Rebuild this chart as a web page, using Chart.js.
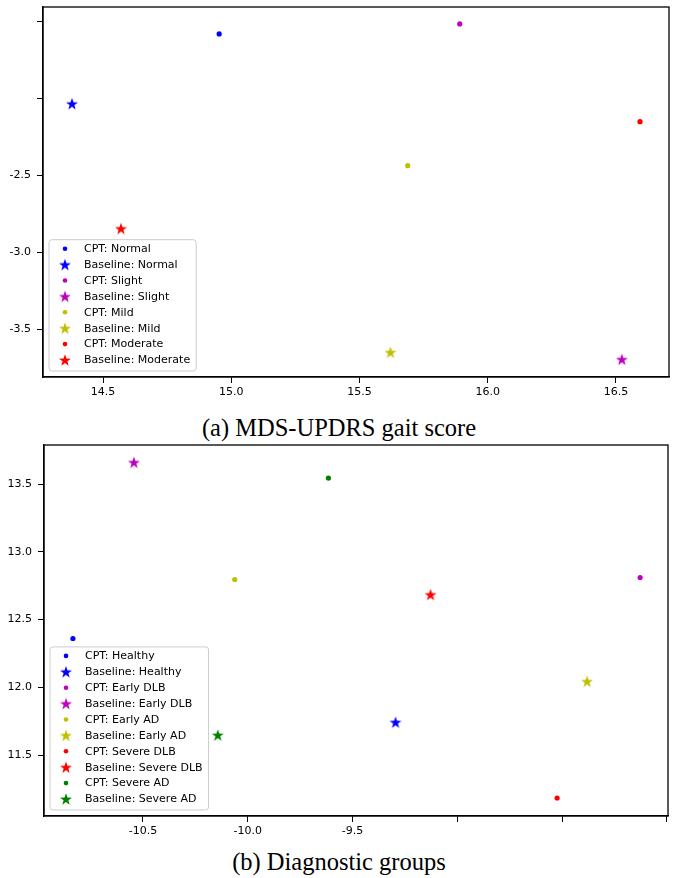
<!DOCTYPE html>
<html>
<head>
<meta charset="utf-8">
<script src="https://cdn.jsdelivr.net/npm/chart.js@4.4.0/dist/chart.umd.min.js"></script>
<style>
  body { margin: 0; background: #fff; width: 678px; height: 878px; position: relative; overflow: hidden; }
  canvas { position: absolute; left: 0; }
  #gaitChart { top: 0; }
  #groupChart { top: 438px; }
  .caption { position: absolute; left: 0; width: 678px; text-align: center; font-family: "Liberation Serif", "DejaVu Serif", serif; font-size: 24.5px; line-height: 28px; color: #000; }
</style>
</head>
<body>
<canvas id="gaitChart" width="678" height="400"></canvas>
<div class="caption" style="top:414px">(a) MDS-UPDRS gait score</div>
<canvas id="groupChart" width="678" height="400"></canvas>
<div class="caption" style="top:848px">(b) Diagnostic groups</div>
<script>
// (a) MDS-UPDRS gait score
const gaitGroups = ['Normal', 'Slight', 'Mild', 'Moderate'];
const gaitColors = ['#0000ff', '#bf00bf', '#bfbf00', '#ff0000'];
const gaitCptX = [14.953, 15.891, 15.688, 16.594];
const gaitCptY = [-1.578, -1.513, -2.435, -2.149];
const gaitBaseX = [14.379, 16.523, 15.621, 14.570];
const gaitBaseY = [-2.032, -3.695, -3.649, -2.844];
const gaitXTicks = [14.5, 15.0, 15.5, 16.0, 16.5];
const gaitXLabels = ['14.5', '15.0', '15.5', '16.0', '16.5'];
const gaitYTicks = [-1.5, -2.0, -2.5, -3.0, -3.5];
const gaitYLabels = ['', '', '-2.5', '-3.0', '-3.5'];

// (b) Diagnostic groups
const diagGroups = ['Healthy', 'Early DLB', 'Early AD', 'Severe DLB', 'Severe AD'];
const diagColors = ['#0000ff', '#bf00bf', '#bfbf00', '#ff0000', '#008000'];
const diagCptX = [-10.834, -8.128, -10.062, -8.524, -9.615];
const diagCptY = [12.36, 12.81, 12.795, 11.183, 13.544];
const diagBaseX = [-9.295, -10.543, -8.381, -9.128, -10.143];
const diagBaseY = [11.742, 13.66, 12.044, 12.684, 11.647];
const diagXTicks = [-10.5, -10.0, -9.5, -9.0, -8.5, -8.0];
const diagXLabels = ['-10.5', '-10.0', '-9.5', '', '', ''];
const diagYTicks = [11.5, 12.0, 12.5, 13.0, 13.5];
const diagYLabels = ['11.5', '12.0', '12.5', '13.0', '13.5'];

const tickFont = { family: 'DejaVu Sans', size: 11 };

// filled 5 point star, like matplotlib's '*' marker
function starImage(color) {
  const c = document.createElement('canvas');
  c.width = 14; c.height = 14;
  const g = c.getContext('2d');
  g.beginPath();
  for (let i = 0; i < 10; i++) {
    const r = i % 2 === 0 ? 6.3 : 2.5;
    const a = -Math.PI / 2 + i * Math.PI / 5;
    const px = 7 + r * Math.cos(a), py = 7.6 + r * Math.sin(a);
    if (i === 0) g.moveTo(px, py); else g.lineTo(px, py);
  }
  g.closePath();
  g.fillStyle = color;
  g.fill();
  return c;
}

function buildDatasets(groups, colors, cx, cy, bx, by) {
  const sets = [];
  groups.forEach((name, i) => {
    sets.push({
      label: 'CPT: ' + name,
      data: [{ x: cx[i], y: cy[i] }],
      backgroundColor: colors[i],
      borderWidth: 0,
      pointStyle: 'circle',
      pointRadius: 2.6
    });
    sets.push({
      label: 'Baseline: ' + name,
      data: [{ x: bx[i], y: by[i] }],
      backgroundColor: colors[i],
      borderWidth: 0,
      pointStyle: starImage(colors[i]),
      pointRadius: 7
    });
  });
  return sets;
}

function axisOptions(ticks, labels, min, max, size, isX) {
  return {
    type: 'linear',
    min: min,
    max: max,
    afterBuildTicks: s => { s.ticks = ticks.map(v => ({ value: v })); },
    afterFit: s => {
      if (isX) s.height = size; else s.width = size;
      s.paddingTop = 0; s.paddingBottom = 0; s.paddingLeft = 0; s.paddingRight = 0;
    },
    ticks: {
      callback: (v, i) => labels[i],
      color: '#000',
      font: tickFont,
      padding: isX ? 3 : 6,
      maxRotation: 0,
      autoSkip: false
    },
    grid: { display: true, drawOnChartArea: false, drawTicks: true, tickLength: 6, color: '#000', lineWidth: 1 },
    border: { display: true, color: '#000', width: 1.3 }
  };
}

// axes frame + matplotlib style legend in the lower left corner
const framePlugin = {
  id: 'frameLegend',
  afterDraw(chart) {
    const ctx = chart.ctx;
    const a = chart.chartArea;
    ctx.save();
    ctx.strokeStyle = '#000';
    ctx.lineWidth = 1.3;
    ctx.strokeRect(a.left, a.top, a.right - a.left, a.bottom - a.top);

    const sets = chart.data.datasets;
    const rowH = 15.9;
    ctx.font = '11px "DejaVu Sans"';
    let maxW = 0;
    sets.forEach(d => { maxW = Math.max(maxW, ctx.measureText(d.label).width); });
    const boxW = 35 + maxW + 6;
    const boxH = 9 + (sets.length - 1) * rowH + 11;
    const x0 = a.left + 6;
    const y0 = a.bottom - 6 - boxH;
    ctx.beginPath();
    ctx.roundRect(x0, y0, boxW, boxH, 3);
    ctx.fillStyle = 'rgba(255,255,255,0.8)';
    ctx.fill();
    ctx.strokeStyle = '#cccccc';
    ctx.lineWidth = 1;
    ctx.stroke();

    ctx.textBaseline = 'middle';
    ctx.textAlign = 'left';
    sets.forEach((d, i) => {
      const cy = y0 + 9 + i * rowH;
      const mx = x0 + 16;
      if (d.pointStyle instanceof HTMLCanvasElement) {
        ctx.drawImage(d.pointStyle, mx - 7, cy - 7);
      } else {
        ctx.beginPath();
        ctx.arc(mx, cy, 2.3, 0, Math.PI * 2);
        ctx.fillStyle = d.backgroundColor;
        ctx.fill();
      }
      ctx.fillStyle = '#000';
      ctx.fillText(d.label, x0 + 35, cy + 0.5);
    });
    ctx.restore();
  }
};

function makeChart(id, datasets, xAxis, yAxis, padding) {
  return new Chart(document.getElementById(id), {
    type: 'scatter',
    data: { datasets: datasets },
    options: {
      responsive: false,
      devicePixelRatio: 1,
      animation: false,
      events: [],
      layout: { padding: padding },
      plugins: { legend: { display: false }, tooltip: { enabled: false } },
      scales: { x: xAxis, y: yAxis }
    },
    plugins: [framePlugin]
  });
}

const gaitChart = makeChart('gaitChart',
  buildDatasets(gaitGroups, gaitColors, gaitCptX, gaitCptY, gaitBaseX, gaitBaseY),
  axisOptions(gaitXTicks, gaitXLabels, 14.266, 16.707, 23, true),
  axisOptions(gaitYTicks, gaitYLabels, -3.81, -1.403, 43, false),
  { top: 6, right: 9, left: 0, bottom: 0 });

const groupChart = makeChart('groupChart',
  buildDatasets(diagGroups, diagColors, diagCptX, diagCptY, diagBaseX, diagBaseY),
  axisOptions(diagXTicks, diagXLabels, -10.972, -7.995, 22, true),
  axisOptions(diagYTicks, diagYLabels, 11.05, 13.788, 44, false),
  { top: 7, right: 10, left: 0, bottom: 0 });
</script>
</body>
</html>
